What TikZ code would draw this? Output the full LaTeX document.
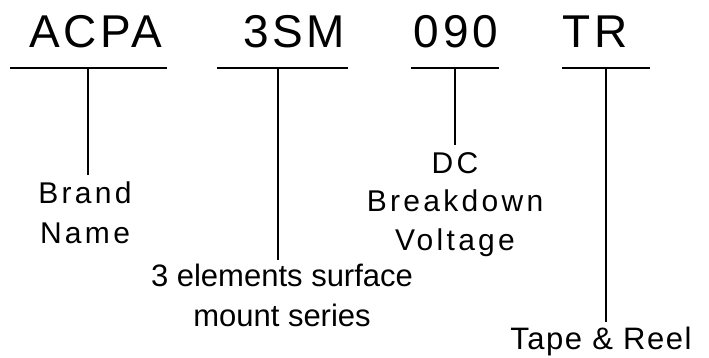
\documentclass[tikz,border=0pt]{standalone}
\usepackage{fontspec}
\setmainfont{Liberation Sans}
\usetikzlibrary{calc}

\begin{document}
\begin{tikzpicture}[
  x=1pt, y=-1pt,
  code/.style={
    anchor=base, inner sep=0pt,
    font=\fontsize{46}{46}\selectfont\addfontfeature{LetterSpace=8}
  },
  desc/.style={
    anchor=north, inner sep=0pt, align=center,
    font=\fontsize{30}{40}\selectfont\addfontfeature{LetterSpace=11}
  },
  bar/.style={line width=1.3pt},
  stem/.style={line width=1.3pt, shorten >=6pt}
]

\useasboundingbox (0,0) rectangle (709,358);

\node[code] (acpa) at (96,48) {ACPA};
\node[code] (sm)   at (294,48) {3SM};
\node[code] (volt) at (456,48) {090};
\node[code] (tr)   at (595,48) {TR};

\coordinate (acpaL) at (10,68);  \coordinate (acpaR) at (167,68); \coordinate (acpaM) at (88,68);
\coordinate (smL)   at (217,68); \coordinate (smR)   at (348,68); \coordinate (smM)   at (278,68);
\coordinate (voltL) at (411,68); \coordinate (voltR) at (499,68); \coordinate (voltM) at (455,68);
\coordinate (trL)   at (562,68); \coordinate (trR)   at (650,68); \coordinate (trM)   at (606,68);

\node[desc] (brand) at (85,182) {Brand\\Name};
\node[desc, font=\fontsize{31}{40}\selectfont] (series) at (282,264)
  {3 elements surface\\mount series};
\node[desc, font=\fontsize{30}{38.5}\selectfont\addfontfeature{LetterSpace=11}] (dcbv) at (455,152)
  {DC\\Breakdown\\Voltage};
\node[desc, font=\fontsize{31}{31}\selectfont\addfontfeature{LetterSpace=5}] (tape) at (601,327)
  {Tape \& Reel};

\draw[bar] (acpaL) -- (acpaR);
\draw[bar] (smL) -- (smR);
\draw[bar] (voltL) -- (voltR);
\draw[bar] (trL) -- (trR);

\draw[stem, shorten >=7pt] (acpaM) -- (acpaM |- brand.north);
\draw[stem, shorten >=4pt] (smM) -- (smM |- series.north);
\draw[stem, shorten >=7pt] (voltM) -- (voltM |- dcbv.north);
\draw[stem, shorten >=5pt] (trM) -- (trM |- tape.north);

\end{tikzpicture}
\end{document}
